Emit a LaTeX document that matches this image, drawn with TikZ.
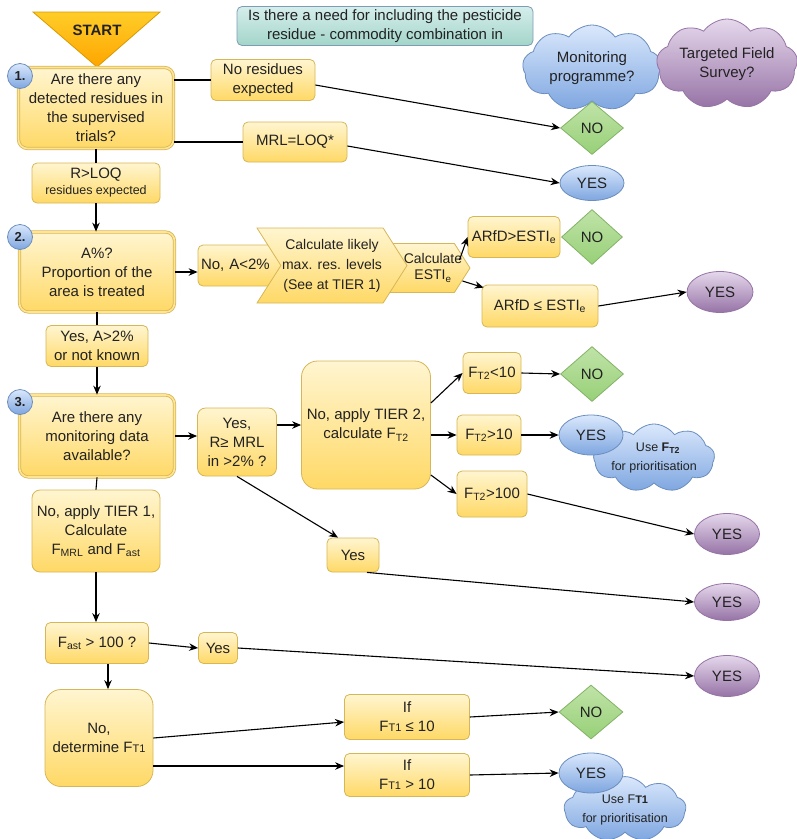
\documentclass[tikz,border=0pt]{standalone}
\usepackage{fontspec}
\setmainfont{Liberation Sans}
\usetikzlibrary{shapes.geometric,shapes.symbols,arrows.meta}
\definecolor{ytop}{HTML}{FFF5D0}
\definecolor{ybot}{HTML}{FFD966}
\definecolor{ybord}{HTML}{D6B656}
\definecolor{otop}{HTML}{FFCD28}
\definecolor{obot}{HTML}{FFA500}
\definecolor{obord}{HTML}{D79B00}
\definecolor{btop}{HTML}{DAE8FC}
\definecolor{bbot}{HTML}{7EA6E0}
\definecolor{bbord}{HTML}{6C8EBF}
\definecolor{ptop}{HTML}{E6D8EC}
\definecolor{pbot}{HTML}{9673A6}
\definecolor{pbord}{HTML}{9673A6}
\definecolor{gtop}{HTML}{C0E3A8}
\definecolor{gbot}{HTML}{97D077}
\definecolor{gbord}{HTML}{82B366}
\definecolor{ttop}{HTML}{D5EEEC}
\definecolor{tbot}{HTML}{A3D5C9}
\definecolor{tbord}{HTML}{7E9CB5}
\definecolor{txt}{HTML}{222222}
\newcommand{\smT}[1]{{\fontsize{11}{11}\selectfont #1}}
\begin{document}
\begin{tikzpicture}[x=1pt,y=-1pt,
  base/.style={font=\fontsize{15}{19}\selectfont, text=txt, align=center, inner sep=1pt},
  ybox/.style={base, rectangle, rounded corners=5pt, draw=ybord, line width=0.8pt, top color=ytop, bottom color=ybot},
  numbox/.style={ybox, rounded corners=9pt, draw=ybord, double=ybot!70!white, double distance=1.6pt},
  chev/.style={base, font=\fontsize{14}{20}\selectfont, shape=signal, signal to=east, signal from=west, signal pointer angle=115, draw=ybord, line width=0.8pt, top color=ytop, bottom color=ybot, inner sep=0pt},
  nodia/.style={base, diamond, draw=gbord, line width=0.8pt, top color=gtop, bottom color=gbot, inner sep=0pt},
  bell/.style={base, ellipse, draw=bbord, line width=0.8pt, top color=btop, bottom color=bbot, inner sep=0pt},
  pell/.style={base, ellipse, draw=pbord, line width=0.8pt, top color=ptop, bottom color=pbot, inner sep=0pt},
  bcloud/.style={base, cloud, cloud puffs=9, cloud puff arc=110, cloud ignores aspect, draw=bbord, line width=0.8pt, top color=btop, bottom color=bbot, inner sep=0pt},
  pcloud/.style={base, cloud, cloud puffs=9, cloud puff arc=110, cloud ignores aspect, draw=pbord, line width=0.8pt, top color=ptop, bottom color=pbot, inner sep=0pt},
  numc/.style={circle, draw=bbord, line width=0.8pt, top color=btop, bottom color=bbot, minimum size=25pt, inner sep=0pt, text=txt, font=\bfseries\fontsize{13}{13}\selectfont},
  conn/.style={line width=1.1pt, draw=black},
  arr/.style={conn, -{Stealth[length=9pt,width=7.5pt]}}
]
\useasboundingbox (0,0) rectangle (797,839);

% title and clouds
\node[base, rectangle, rounded corners=5pt, draw=tbord, line width=0.8pt, top color=ttop, bottom color=tbot, minimum width=296pt, minimum height=39pt, font=\fontsize{15}{18.5}\selectfont] (title) at (385,26) {Is there a need for including the pesticide\\residue - commodity combination in};
\node[bcloud, minimum width=139pt, minimum height=86pt] (cloudM) at (592,68) {Monitoring\\programme?};
\node[pcloud, minimum width=141pt, minimum height=90pt] (cloudT) at (727,64) {Targeted Field\\Survey?};

% start
\path[draw=obord, line width=0.8pt, top color=otop, bottom color=obot] (33,12) -- (160,12) -- (97,67) -- cycle;
\node[base, font=\bfseries\fontsize{15}{15}\selectfont] (start) at (97,30) {START};

% step 1
\node[numbox, minimum width=155pt, minimum height=81pt] (box1) at (96,108) {Are there any\\detected residues in\\the supervised\\trials?};
\node[numc] (c1) at (20,76) {1.};
\node[ybox, minimum width=104pt, minimum height=41pt] (nores) at (263,80) {No residues\\expected};
\node[ybox, minimum width=104pt, minimum height=40pt] (mrl) at (295,142) {MRL=LOQ*};
\node[nodia, minimum width=63pt, minimum height=53pt] (no1) at (592,128) {NO};
\node[bell, minimum width=64pt, minimum height=35pt] (yes1) at (592,183) {YES};
\node[ybox, minimum width=128pt, minimum height=40pt, font=\fontsize{15}{19}\selectfont] (rloq) at (96,183) {R>LOQ\\[-3pt]{\fontsize{12.5}{14}\selectfont residues expected}};

% step 2
\node[numbox, minimum width=155pt, minimum height=80pt] (box2) at (97,272) {A\%?\\Proportion of the\\area is treated};
\node[numc] (c2) at (20,237) {2.};
\node[ybox, minimum width=94pt, minimum height=41pt, text width=88pt, align=left] (noA) at (245,265.5) {No, A<2\%};
\node[chev, minimum width=96pt, minimum height=49pt] (chev2) at (422,268) {};
\node[chev, minimum width=150pt, minimum height=75pt] (chev1) at (332,265.5) {Calculate likely\\max. res. levels\\(See at TIER 1)};
\node[base, font=\fontsize{14}{16}\selectfont] (chev2txt) at (433,268) {Calculate\\ESTI\textsubscript{e}};
\node[ybox, minimum width=92pt, minimum height=41pt] (arfd1) at (514,237) {ARfD>ESTI\textsubscript{e}};
\node[nodia, minimum width=61pt, minimum height=55pt] (no2) at (592,237) {NO};
\node[ybox, minimum width=116pt, minimum height=42pt] (arfd2) at (540,306) {ARfD ≤ ESTI\textsubscript{e}};
\node[pell, minimum width=66pt, minimum height=41pt] (yes2) at (720,292) {YES};
\node[ybox, minimum width=102pt, minimum height=41pt] (yesA) at (97,346) {Yes, A>2\%\\or not known};

% step 3
\node[numbox, minimum width=155pt, minimum height=82pt] (box3) at (97,436) {Are there any\\monitoring data\\available?};
\node[numc] (c3) at (20,402) {3.};
\node[ybox, minimum width=79pt, minimum height=68pt, rounded corners=8pt] (yesR) at (237,442) {Yes,\\R≥ MRL\\in >2\% ?};
\node[ybox, minimum width=129pt, minimum height=128pt, rounded corners=16pt] (tier2) at (366,425) {No, apply TIER 2,\\calculate F\textsubscript{T2}};
\node[ybox, minimum width=58pt, minimum height=41pt] (ft2a) at (492,373) {F\textsubscript{T2}<10};
\node[nodia, minimum width=63pt, minimum height=55pt] (no3) at (592,374) {NO};
\node[ybox, minimum width=64pt, minimum height=40pt] (ft2b) at (489,435) {F\textsubscript{T2}>10};
\node[bcloud, minimum width=102pt, minimum height=68pt, font=\fontsize{12.5}{19}\selectfont] (cloud2) at (654,458) {\hspace*{8pt}Use \textbf{F\textsubscript{T2}}\\for prioritisation};
\node[bell, minimum width=64pt, minimum height=40pt] (yes3) at (591,435) {YES};
\node[ybox, minimum width=70pt, minimum height=46pt] (ft2c) at (492,494) {F\textsubscript{T2}>100};
\node[pell, minimum width=65pt, minimum height=41pt] (yes4) at (727,534) {YES};
\node[ybox, minimum width=52pt, minimum height=34pt] (yesmid) at (353,555) {Yes};
\node[pell, minimum width=65pt, minimum height=37pt] (yes5) at (727,602) {YES};

% tier 1
\node[ybox, minimum width=128pt, minimum height=82pt, rounded corners=8pt] (tier1) at (96,531) {No, apply TIER 1,\\Calculate\\F\textsubscript{MRL} and F\textsubscript{ast}};
\node[ybox, minimum width=103pt, minimum height=41pt] (fast) at (97,643) {F\textsubscript{ast} > 100 ?};
\node[ybox, minimum width=39pt, minimum height=31pt] (yesf) at (218,648) {Yes};
\node[pell, minimum width=65pt, minimum height=41pt] (yes6) at (727,676) {YES};
\node[ybox, minimum width=108pt, minimum height=97pt, rounded corners=16pt] (det) at (99,738) {No,\\determine F\smT{T1}};
\node[ybox, minimum width=125pt, minimum height=45pt] (if1) at (407,717) {If\\F\smT{T1} ≤ 10};
\node[ybox, minimum width=125pt, minimum height=43pt] (if2) at (407,775) {If\\F\smT{T1} > 10};
\node[nodia, minimum width=64pt, minimum height=54pt] (no4) at (591,712) {NO};
\node[bcloud, minimum width=118pt, minimum height=62pt, font=\fontsize{12.5}{19}\selectfont] (cloud3) at (625,809) {\\[-8pt]Use F\smT{\bfseries T1}\\for prioritisation};
\node[bell, minimum width=64pt, minimum height=40pt] (yes7) at (591,773) {YES};

% connectors
\draw[conn] (box1.east |- nores.west) -- (nores.west);
\draw[arr] ([yshift=-5pt]nores.east) -- (no1.west);
\draw[conn] (box1.east |- mrl.west) -- (mrl.west);
\draw[arr] ([yshift=-4pt]mrl.east) -- (yes1.west);
\draw[conn] (box1.south) -- (rloq.north);
\draw[arr] (rloq.south) -- (rloq.south |- box2.north);
\draw[arr] (box2.east) -- (box2.east -| noA.west);
\draw[arr] ([xshift=-11pt,yshift=8pt]chev2.east) -- (arfd1.west);
\draw[arr] ([xshift=-8pt,yshift=-13pt]chev2.east) -- ([xshift=2pt,yshift=-3pt]arfd2.north west);
\draw[arr] (arfd2.east) -- (yes2.west);
\draw[conn] (box2.south) -- (yesA.north);
\draw[arr] (yesA.south) -- (yesA.south |- box3.north);
\draw[arr] (box3.east) -- (box3.east -| yesR.west);
\draw[arr] (tier2.west -| yesR.east) -- (tier2.west);
\draw[arr] ([yshift=22pt]tier2.east) -- (ft2a.west);
\draw[arr] (tier2.east |- ft2b.west) -- (ft2b.west);
\draw[arr] ([yshift=-50pt]tier2.east) -- (ft2c.west);
\draw[arr] (ft2a.east) -- (no3.west);
\draw[arr] (ft2b.east) -- (yes3.west);
\draw[arr] (ft2c.east) -- (yes4.west);
\draw[arr] (yesR.south) -- ([xshift=-15pt]yesmid.north);
\draw[arr] ([xshift=14pt]yesmid.south) -- (yes5.west);
\draw[conn] (box3.south) -- (tier1.north);
\draw[arr] (tier1.south) -- (tier1.south |- fast.north);
\draw[arr] (fast.east) -- (yesf.west);
\draw[arr] (yesf.east) -- (yes6.west);
\draw[arr] ([xshift=11pt]fast.south) -- ([xshift=11pt]fast.south |- det.north);
\draw[arr] (det.east) -- ([yshift=-5pt]if1.west);
\coordinate (if2in) at ([yshift=9pt]if2.west);
\draw[arr] (if2in -| det.east) -- (if2in);
\draw[arr] (if1.east) -- (no4.west);
\draw[arr] (if2.east) -- (yes7.west);
\end{tikzpicture}
\end{document}
